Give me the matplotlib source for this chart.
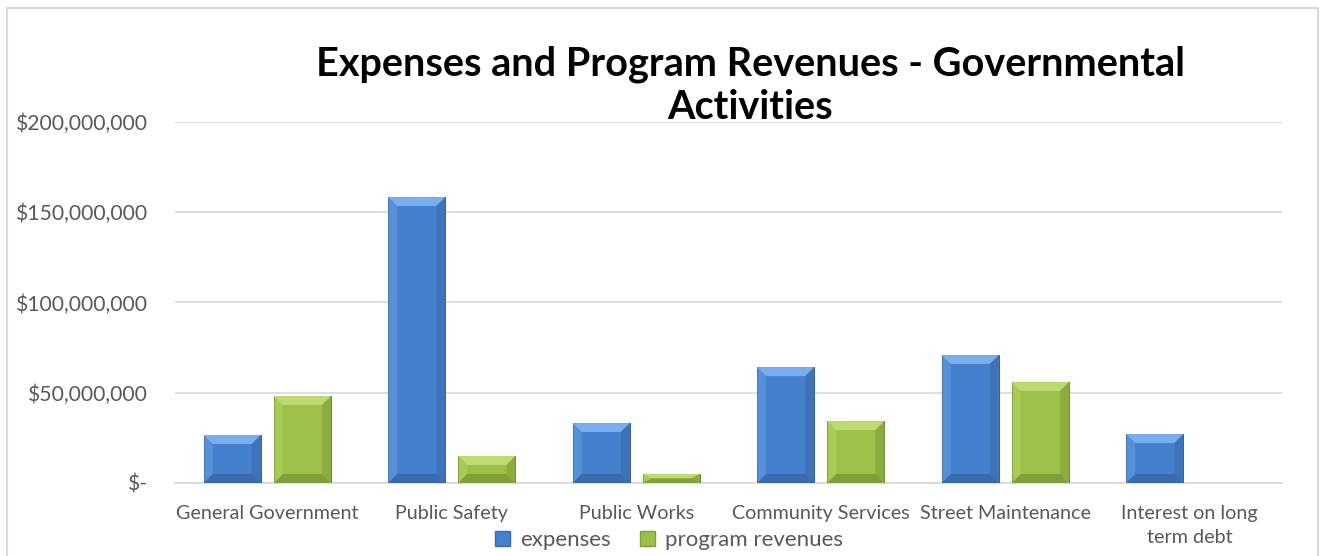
import numpy as np
import matplotlib.pyplot as plt
from matplotlib.patches import Polygon, Rectangle
from matplotlib.ticker import FuncFormatter

plt.rcParams['font.family'] = ['Lato', 'DejaVu Sans']

categories = ['General Government', 'Public Safety', 'Public Works',
              'Community Services', 'Street Maintenance', 'Interest on long\nterm debt']
expenses = [26.6e6, 158.4e6, 33.2e6, 64.2e6, 70.9e6, 27.1e6]
revenues = [48.2e6, 15.0e6, 5.0e6, 34.3e6, 55.9e6, 0.0]

# face, light bevel, dark bevel
blue = ('#4480CE', '#78AEEE', '#3A6BAE')
green = ('#9DC148', '#BDDB72', '#819F38')
grey = '#595959'

fig = plt.figure(figsize=(13.21, 5.56), dpi=100)
ax = fig.add_axes([0.1325, 0.1313, 0.838, 0.6493])

x = np.arange(len(categories))
bw = 0.31
gap = 0.07
b1 = ax.bar(x - (bw + gap) / 2, expenses, bw, color=blue[0], edgecolor='#2B4F80', linewidth=0.6, zorder=3)
b2 = ax.bar(x + (bw + gap) / 2, revenues, bw, color=green[0], edgecolor='#5E7A25', linewidth=0.6, zorder=3)

ax.set_xlim(-0.5, len(categories) - 0.5)
ax.set_ylim(0, 200e6)
ax.set_yticks(np.arange(0, 200e6 + 1, 50e6))


def money(v, pos):
    if v == 0:
        return '$-'
    return '${:,.0f}'.format(v)


ax.yaxis.set_major_formatter(FuncFormatter(money))
ax.set_xticks(x)
ax.set_xticklabels(categories, linespacing=1.5)
ax.tick_params(axis='both', length=0, colors=grey)
ax.tick_params(axis='y', pad=19.5, labelsize=15.2)
ax.tick_params(axis='x', pad=15.5, labelsize=14.2)
ax.grid(axis='y', color='#D9D9D9', linewidth=1.2, zorder=0)
for s in ['left', 'right', 'top']:
    ax.spines[s].set_visible(False)
ax.spines['bottom'].set_color('#D9D9D9')
ax.spines['bottom'].set_linewidth(1.2)

# bevel on each bar, sized in pixels
fig.canvas.draw()
bb = ax.get_window_extent()
px_x = (ax.get_xlim()[1] - ax.get_xlim()[0]) / bb.width
px_y = (ax.get_ylim()[1] - ax.get_ylim()[0]) / bb.height


def bevel(bars, cols, size=9):
    for p in bars:
        x0, y0 = p.get_x(), p.get_y()
        w, h = p.get_width(), p.get_height()
        if h <= 0:
            continue
        dx = size * px_x
        dy = min(size * px_y, h / 2)
        x1, y1 = x0 + w, y0 + h
        top = [(x0, y1), (x1, y1), (x1 - dx, y1 - dy), (x0 + dx, y1 - dy)]
        bot = [(x0, y0), (x1, y0), (x1 - dx, y0 + dy), (x0 + dx, y0 + dy)]
        lft = [(x0, y0), (x0, y1), (x0 + dx, y1 - dy), (x0 + dx, y0 + dy)]
        rgt = [(x1, y0), (x1, y1), (x1 - dx, y1 - dy), (x1 - dx, y0 + dy)]
        ax.add_patch(Polygon(top, closed=True, color=cols[1], lw=0, zorder=4))
        ax.add_patch(Polygon(bot, closed=True, color=cols[2], lw=0, zorder=4))
        ax.add_patch(Polygon(lft, closed=True, color=cols[1], alpha=0.35, lw=0, zorder=4))
        ax.add_patch(Polygon(rgt, closed=True, color=cols[2], alpha=0.6, lw=0, zorder=4))


bevel(b1, blue)
bevel(b2, green)

fig.text(750 / 1321, 1 - 86 / 556, 'Expenses and Program Revenues - Governmental\nActivities',
         ha='center', va='center', fontsize=28.5, fontweight='bold', linespacing=1.2)

handles = [Rectangle((0, 0), 1, 1, facecolor=blue[0], edgecolor=blue[2]),
           Rectangle((0, 0), 1, 1, facecolor=green[0], edgecolor=green[2])]
fig.legend(handles, ['expenses', 'program revenues'], loc='center',
           bbox_to_anchor=(669 / 1321, 1 - 540 / 556), ncol=2, frameon=False,
           fontsize=16, labelcolor=grey, handlelength=0.68, handleheight=0.68,
           handletextpad=0.45, columnspacing=1.3, borderpad=0)

# outer chart border
fig.add_artist(Rectangle((6.5 / 1321, -0.05), 1311.5 / 1321, 1 - 7.5 / 556 + 0.05,
                         transform=fig.transFigure, fill=False, edgecolor='#D9D9D9', linewidth=1.5))

fig.savefig('out.png', dpi=100)
